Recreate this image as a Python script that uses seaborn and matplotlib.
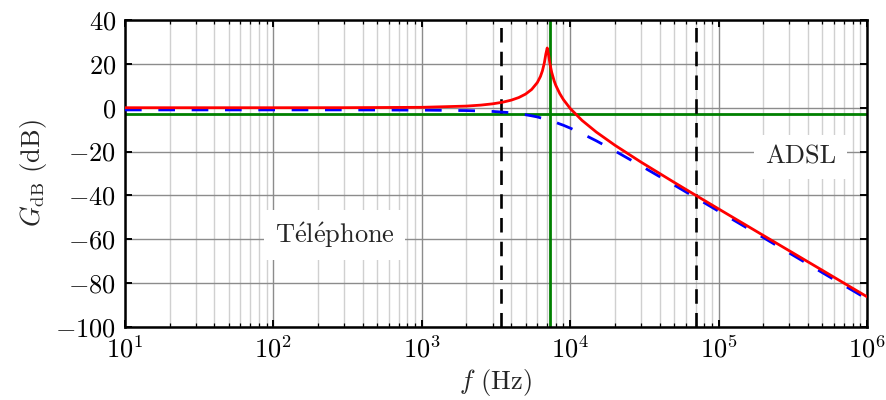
import numpy as np
import pandas as pd
import matplotlib
matplotlib.use("Agg")
import matplotlib.pyplot as plt
import matplotlib.ticker as mticker
import seaborn as sns

# ---- data ----
freq = [10, 30, 100, 300, 1000, 2000, 2500, 3000, 3500, 4000, 4500, 5000, 5500,
        6000, 6300, 6500, 6700, 6850, 7000, 7150, 7300, 7500, 7800, 8000, 8500,
        9000, 10000, 12000, 15000, 20000, 30000, 50000, 70000, 100000, 200000,
        500000, 1000000]
gain_red = [0.0, 0.0, 0.0, 0.02, 0.18, 0.74, 1.19, 1.77, 2.50, 3.44, 4.63, 6.20, 8.33,
            11.45, 14.24, 16.86, 20.57, 24.42, 27.23, 24.15, 20.12, 16.19, 12.18, 10.17, 6.47,
            3.70, -0.35, -5.75, -11.11, -17.10, -24.80, -33.98, -39.91, -46.15, -58.23,
            -74.15, -86.20]
gain_blue = [-1.0, -1.0, -1.0, -1.0, -1.1, -1.3, -1.5, -1.7, -2.0, -2.3, -2.7, -3.2, -3.7,
             -4.2, -4.6, -4.8, -5.1, -5.3, -5.4, -5.6, -5.8, -6.1, -6.5, -6.7, -7.4,
             -8.0, -9.3, -11.8, -15.1, -19.7, -26.5, -35.2, -41.0, -47.2, -59.2,
             -75.2, -87.2]
level_3db = -3
f_green = 7350
f_band = [3400, 70000]
yticks = [40, 20, 0, -20, -40, -60, -80, -100]
xticks = [1e1, 1e2, 1e3, 1e4, 1e5, 1e6]
label_tel = r"$\mathrm{T\acute{e}l\acute{e}phone}$"
label_adsl = "ADSL"

df = pd.DataFrame({"f": freq, "red": gain_red, "blue": gain_blue})

sns.set_style("ticks")
plt.rcParams["font.family"] = "serif"
plt.rcParams["font.serif"] = ["cmr10", "DejaVu Serif"]
plt.rcParams["mathtext.fontset"] = "cm"
plt.rcParams["axes.formatter.use_mathtext"] = True

FS = 19

fig = plt.figure(figsize=(8.87, 4.0), dpi=100)
ax = fig.add_axes([125 / 887, 73 / 400, 742 / 887, 307 / 400])

ax.set_xscale("log")
ax.set_xlim(10, 1e6)
ax.set_ylim(-100, 40)

# grid
ax.grid(True, which="major", color="#8c8c8c", lw=1.0, zorder=0)
ax.grid(True, which="minor", axis="x", color="#d0d0d0", lw=1.0, zorder=0)
ax.set_axisbelow(True)

# reference lines
ax.axhline(level_3db, color="#008000", lw=2.0, zorder=2)
ax.axvline(f_green, color="#008000", lw=2.0, zorder=2)
for fb in f_band:
    ln = ax.axvline(fb, color="black", lw=1.9, zorder=3)
    ln.set_dashes((5.5, 3.5))

sns.lineplot(data=df, x="f", y="blue", ax=ax, color="#0000ff", lw=2.0, zorder=4)
ax.lines[-1].set_dashes((6, 6))
sns.lineplot(data=df, x="f", y="red", ax=ax, color="#ff0000", lw=2.0, zorder=5)

ax.set_xticks(xticks)
ax.xaxis.set_major_formatter(mticker.LogFormatterMathtext())
ax.xaxis.set_minor_locator(mticker.LogLocator(base=10, subs=np.arange(2, 10), numticks=20))
ax.xaxis.set_minor_formatter(mticker.NullFormatter())
ax.set_yticks(yticks)
ax.yaxis.set_major_formatter(mticker.FuncFormatter(lambda v, p: r"$%d$" % v))

ax.tick_params(which="both", direction="in", top=True, right=True, labelsize=FS, colors="black")
ax.tick_params(which="major", length=5, width=1.4, pad=6.5)
ax.tick_params(which="minor", length=3, width=0.9)
for s in ax.spines.values():
    s.set_linewidth(1.8)
    s.set_color("black")

ax.set_xlabel(r"$f$ (Hz)", fontsize=FS, labelpad=3)
ax.set_ylabel(r"$G_{\mathrm{dB}}$ (dB)", fontsize=FS, labelpad=4)

box = dict(boxstyle="square,pad=0.4", fc="white", ec="none")
ax.text(258, -58, label_tel, fontsize=FS, ha="center", va="center", bbox=box, zorder=6)
ax.text(357000, -22.5, label_adsl, fontsize=FS, ha="center", va="center", bbox=box, zorder=6)

fig.savefig("out.png", dpi=100)
